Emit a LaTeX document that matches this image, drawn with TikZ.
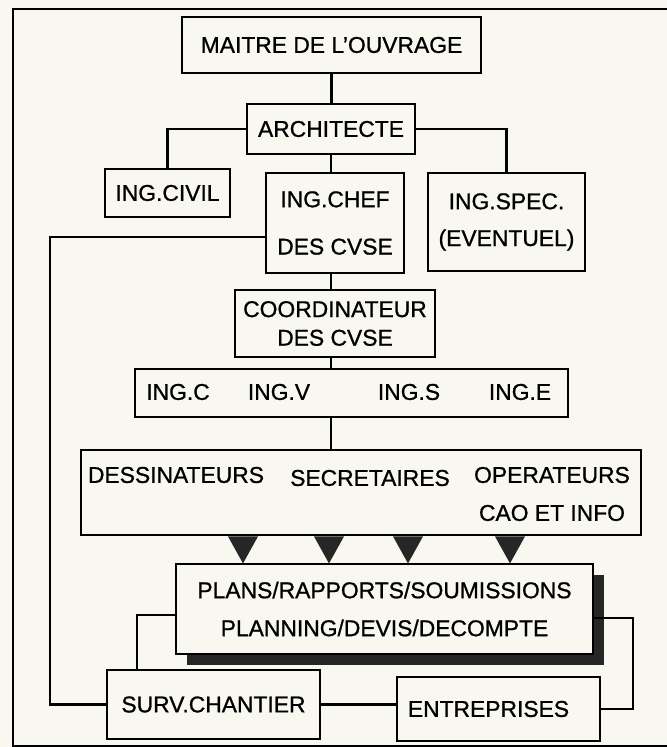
\documentclass[tikz,border=0pt]{standalone}
\usepackage{fontspec}
\setmainfont{Liberation Sans}[FakeBold=0.9]
\usepackage{xcolor}
\usetikzlibrary{positioning,calc,shadows}
\definecolor{paper}{RGB}{248,247,240}
\newcommand{\orgfont}{\fontsize{19.5}{23.4}\selectfont}

\begin{document}
\begin{tikzpicture}[
    x=0.03cm, y=-0.03cm,
    font=\orgfont,
    box/.style={rectangle, draw, line width=2.4pt, inner sep=0pt, fill=paper, align=center},
    txt/.style={inner sep=0pt, align=center},
    link/.style={line width=1.8pt},
    frame/.style={line width=1pt}
]
\fill[paper] (0,0) rectangle (667,747);
\useasboundingbox (0,0) rectangle (667,747);
\draw[frame] (667,9) -- (13,9) -- (13,746) -- (667,746);

% Direction
\node[box, minimum width=8.97cm, minimum height=1.68cm] (maitre) at (331.5,45) {MAITRE DE L'OUVRAGE};
\node[box, minimum width=5.04cm, minimum height=1.5cm] (archi) at (331,129) {\raisebox{-4pt}{ARCHITECTE}};

% Engineers
\node[box, minimum width=3.75cm, minimum height=1.44cm] (civil) at (167.5,193) {\raisebox{-3pt}{ING.CIVIL}};
\node[box, minimum width=4.14cm, minimum height=3cm] (chef) at (335,223) {ING.CHEF\\[17pt]DES CVSE};
\node[box, minimum width=4.71cm, minimum height=2.94cm] (spec) at (506.5,222) {ING.SPEC.\\[8pt](EVENTUEL)};
\node[box, minimum width=6cm, minimum height=2.01cm] (coord) at (335,323.5) {COORDINATEUR\\[1pt]DES CVSE};

% Disciplines
\node[box, minimum width=12.99cm, minimum height=1.44cm] (ing) at (351.5,393) {};
\node[txt] (ingc) at (178,392) {ING.C};
\node[txt] (ingv) at (279,392) {ING.V};
\node[txt] (ings) at (409,392) {ING.S};
\node[txt] (inge) at (520,392) {ING.E};

% Staff
\node[box, minimum width=16.8cm, minimum height=2.55cm] (dess) at (361,492.5) {};
\node[txt] (dessin) at (176,475) {DESSINATEURS};
\node[txt] (secr) at (370,478) {SECRETAIRES};
\node[txt] (oper) at (552,494) {OPERATEURS\\[9pt]CAO ET INFO};

% Documents and site
\node[box, line width=1pt, minimum width=12.51cm, minimum height=2.7cm,
      drop shadow={shadow xshift=0.33cm, shadow yshift=-0.33cm, fill=black!85, opacity=1}]
      (plans) at (384.5,609) {PLANS/RAPPORTS/SOUMISSIONS\\[9pt]PLANNING/DEVIS/DECOMPTE};
\node[box, minimum width=6.39cm, minimum height=2.07cm] (surv) at (213.5,704.5) {SURV.CHANTIER};
\node[box, minimum width=6.09cm, minimum height=1.92cm] (entr) at (498.5,709) {ENTREPRISES\hspace*{0.6cm}};

% Bends
\coordinate (bend) at (50,237);
\coordinate (pl) at (137,615);
\coordinate (pr) at (633,618);

% Connections
\draw[link] (maitre.south) -- (maitre.south |- archi.north);
\draw[link] (archi.west) -| (civil.north);
\draw[link] (archi.east) -| (spec.north);
\draw[link] (archi.south) -- (archi.south |- chef.north);
\draw[link] (chef.west |- bend) -- (bend) |- (surv.west);
\draw[link] (coord.north -| archi.south) -- (chef.south -| archi.south);
\draw[link] (coord.south -| archi.south) -- (ing.north -| archi.south);
\draw[link] (ing.south -| archi.south) -- (dess.north -| archi.south);
\draw[link] (plans.west |- pl) -| (surv.north -| pl);
\draw[link] (plans.east |- pr) -- (pr) |- (entr.east);
\draw[link] (surv.east) -- (surv.east -| entr.west);

% Flow into documents
\foreach \tx in {243,329,408,510}
  \fill[black!85] ($(dess.south -| \tx,0)+(-15,0)$) -- ($(dess.south -| \tx,0)+(15,0)$)
    -- (plans.north -| \tx,0) -- cycle;
\end{tikzpicture}
\end{document}
